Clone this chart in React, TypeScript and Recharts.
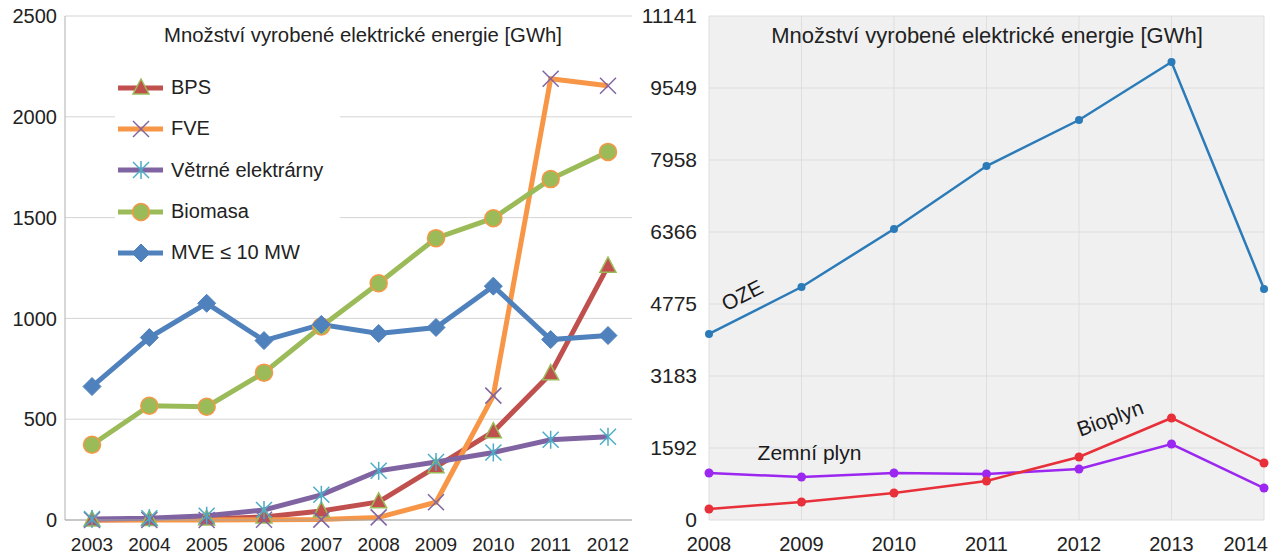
import React from "react";
import {
  LineChart,
  Line,
  XAxis,
  YAxis,
  CartesianGrid,
  Legend,
  ReferenceDot,
} from "recharts";

const FONT = "'Liberation Sans', Arial, sans-serif";

// left chart: 2003-2012
const leftYears = ["2003", "2004", "2005", "2006", "2007", "2008", "2009", "2010", "2011", "2012"];
const bps = [0, 2, 5, 15, 45, 90, 264, 438, 726, 1259];
const fve = [0, 0, 0, 1, 2, 13, 88, 617, 2189, 2154];
const vetrne = [5, 9, 21, 50, 125, 244, 288, 335, 398, 413];
const biomasa = [373, 567, 562, 731, 960, 1174, 1398, 1497, 1691, 1826];
const mve = [662, 905, 1075, 890, 970, 925, 955, 1160, 895, 915];
const leftTicks = [0, 500, 1000, 1500, 2000, 2500];

// right chart: 2008-2014
const rightYears = ["2008", "2009", "2010", "2011", "2012", "2013", "2014"];
const oze = [4112, 5150, 6433, 7825, 8842, 10124, 5106];
const bioplyn = [243, 398, 597, 862, 1393, 2255, 1260];
const zemniPlyn = [1039, 950, 1039, 1017, 1127, 1680, 707];
const rightTicks = [0, 1592, 3183, 4775, 6366, 7958, 9549, 11141];

const leftData = leftYears.map((year, i) => ({
  year,
  bps: bps[i],
  fve: fve[i],
  vetrne: vetrne[i],
  biomasa: biomasa[i],
  mve: mve[i],
}));

const rightData = rightYears.map((year, i) => ({
  year,
  oze: oze[i],
  bioplyn: bioplyn[i],
  zemni: zemniPlyn[i],
}));

type MarkerKind = "triangle" | "x" | "star" | "circle" | "diamond";

function Marker({ kind, cx, cy }: { kind: MarkerKind; cx: number; cy: number }) {
  if (cx == null || cy == null) return null;
  const s = 8;
  switch (kind) {
    case "triangle":
      return (
        <polygon
          points={`${cx},${cy - 9} ${cx - 8},${cy + 6} ${cx + 8},${cy + 6}`}
          fill="#c0504d"
          stroke="#9bbb59"
          strokeWidth={1.5}
        />
      );
    case "x":
      return (
        <g stroke="#8064a2" strokeWidth={1.5}>
          <line x1={cx - s} y1={cy - s} x2={cx + s} y2={cy + s} />
          <line x1={cx - s} y1={cy + s} x2={cx + s} y2={cy - s} />
        </g>
      );
    case "star":
      return (
        <g stroke="#4bacc6" strokeWidth={1.5}>
          <line x1={cx - s} y1={cy - s} x2={cx + s} y2={cy + s} />
          <line x1={cx - s} y1={cy + s} x2={cx + s} y2={cy - s} />
          <line x1={cx} y1={cy - s - 1} x2={cx} y2={cy + s + 1} />
        </g>
      );
    case "circle":
      return <circle cx={cx} cy={cy} r={8.5} fill="#9bbb59" stroke="#f79646" strokeWidth={1.5} />;
    case "diamond":
      return (
        <polygon
          points={`${cx},${cy - 9} ${cx + 9},${cy} ${cx},${cy + 9} ${cx - 9},${cy}`}
          fill="#4f81bd"
          stroke="#4f81bd"
        />
      );
  }
  return null;
}

const leftSeries: { key: string; name: string; color: string; marker: MarkerKind }[] = [
  { key: "bps", name: "BPS", color: "#c0504d", marker: "triangle" },
  { key: "fve", name: "FVE", color: "#f79646", marker: "x" },
  { key: "vetrne", name: "Větrné elektrárny", color: "#8064a2", marker: "star" },
  { key: "biomasa", name: "Biomasa", color: "#9bbb59", marker: "circle" },
  { key: "mve", name: "MVE ≤ 10 MW", color: "#4f81bd", marker: "diamond" },
];

function LeftLegend() {
  return (
    <div style={{ background: "#fff", paddingTop: 2, paddingLeft: 3, fontFamily: FONT }}>
      {leftSeries.map((s) => (
        <div key={s.key} style={{ height: 41.3, display: "flex", alignItems: "center" }}>
          <svg width={46} height={22} style={{ display: "block" }}>
            <line x1={0} y1={11} x2={45} y2={11} stroke={s.color} strokeWidth={5} />
            <Marker kind={s.marker} cx={23} cy={11} />
          </svg>
          <span style={{ marginLeft: 7, fontSize: 20, color: "#222" }}>{s.name}</span>
        </div>
      ))}
    </div>
  );
}

// annotation text placed at a data point, shifted and rotated
function RotLabel(props: any) {
  const { viewBox, text, shiftX = 0, rot = 0 } = props;
  if (!viewBox) return null;
  const x = viewBox.x + (viewBox.width || 0) / 2 + shiftX;
  const y = viewBox.y + (viewBox.height || 0) / 2;
  return (
    <text
      x={x}
      y={y}
      textAnchor="middle"
      dominantBaseline="central"
      fontSize={21}
      fontFamily={FONT}
      fill="#1a1a1a"
      transform={`rotate(${rot} ${x} ${y})`}
    >
      {text}
    </text>
  );
}

// last tick is pulled in so it ends at the picture edge
function RightTick(props: any) {
  const { x, y, payload, index } = props;
  const last = index === rightYears.length - 1;
  return (
    <text
      x={last ? x + 4 : x}
      y={y}
      dy="0.71em"
      textAnchor={last ? "end" : "middle"}
      fontSize={20}
      fontFamily={FONT}
      fill="#222"
    >
      {payload.value}
    </text>
  );
}

const titleText = "Množství vyrobené elektrické energie [GWh]";

export default function App() {
  return (
    <div
      style={{
        position: "absolute",
        left: 0,
        top: 0,
        width: 1269,
        height: 555,
        overflow: "hidden",
        background: "#fff",
        fontFamily: FONT,
      }}
    >
      <div style={{ position: "absolute", left: 0, top: 0 }}>
        <LineChart width={640} height={555} data={leftData} margin={{ top: 16, right: 8, left: 0, bottom: 0 }}>
          <CartesianGrid vertical={false} stroke="#d4d4d4" />
          <XAxis
            dataKey="year"
            height={35}
            padding={{ left: 27, right: 24 }}
            tickLine={false}
            tickSize={0}
            tickMargin={18}
            axisLine={{ stroke: "#a6a6a6" }}
            tick={{ fontSize: 19, fill: "#222", fontFamily: FONT }}
            interval={0}
          />
          <YAxis
            width={65}
            domain={[0, 2500]}
            ticks={leftTicks}
            tickLine={false}
            tickSize={0}
            tickMargin={8}
            axisLine={{ stroke: "#b0b0b0" }}
            tick={{ fontSize: 20, fill: "#222", fontFamily: FONT }}
          />
          <Legend
            layout="vertical"
            align="center"
            verticalAlign="middle"
            content={<LeftLegend />}
            wrapperStyle={{ left: 115, top: 65, width: 225, height: 210 }}
          />
          {leftSeries.map((s) => (
            <Line
              key={s.key}
              dataKey={s.key}
              name={s.name}
              stroke={s.color}
              strokeWidth={5}
              isAnimationActive={false}
              dot={(p: any) => <Marker key={`${s.key}-${p.index}`} kind={s.marker} cx={p.cx} cy={p.cy} />}
              activeDot={false}
            />
          ))}
        </LineChart>
      </div>
      <div
        style={{
          position: "absolute",
          left: 363 - 250,
          width: 500,
          top: 24,
          textAlign: "center",
          fontSize: 20.3,
          color: "#222",
          whiteSpace: "nowrap",
        }}
      >
        {titleText}
      </div>

      <div style={{ position: "absolute", left: 640, top: 0 }}>
        <LineChart width={664} height={555} data={rightData} margin={{ top: 16, right: 40, left: 0, bottom: 0 }}>
          <CartesianGrid fill="#f0f0f0" stroke="#dedede" />
          <XAxis
            dataKey="year"
            height={35}
            tickLine={false}
            tickSize={0}
            tickMargin={17}
            axisLine={false}
            tick={<RightTick />}
            interval={0}
          />
          <YAxis
            width={69}
            domain={[0, 11141]}
            ticks={rightTicks}
            tickLine={false}
            tickSize={0}
            tickMargin={12}
            axisLine={false}
            tick={{ fontSize: 21, fill: "#222", fontFamily: FONT }}
          />
          <Line
            dataKey="oze"
            stroke="#2b7bb9"
            strokeWidth={2.5}
            dot={{ r: 4, fill: "#2b7bb9", stroke: "none" }}
            activeDot={false}
            isAnimationActive={false}
          />
          <Line
            dataKey="zemni"
            stroke="#9b27f0"
            strokeWidth={2.5}
            dot={{ r: 4.5, fill: "#9b27f0", stroke: "none" }}
            activeDot={false}
            isAnimationActive={false}
          />
          <Line
            dataKey="bioplyn"
            stroke="#e8303a"
            strokeWidth={2.5}
            dot={{ r: 4.5, fill: "#e8303a", stroke: "none" }}
            activeDot={false}
            isAnimationActive={false}
          />
          <ReferenceDot x="2008" y={4974} r={0} fill="none" stroke="none" label={<RotLabel text="OZE" shiftX={33} rot={-27} />} />
          <ReferenceDot x="2009" y={1503} r={0} fill="none" stroke="none" label={<RotLabel text="Zemní plyn" shiftX={8} rot={0} />} />
          <ReferenceDot x="2012" y={2255} r={0} fill="none" stroke="none" label={<RotLabel text="Bioplyn" shiftX={31} rot={-20} />} />
        </LineChart>
      </div>
      <div
        style={{
          position: "absolute",
          left: 987 - 300,
          width: 600,
          top: 23,
          textAlign: "center",
          fontSize: 22,
          color: "#222",
          whiteSpace: "nowrap",
        }}
      >
        {titleText}
      </div>
    </div>
  );
}
